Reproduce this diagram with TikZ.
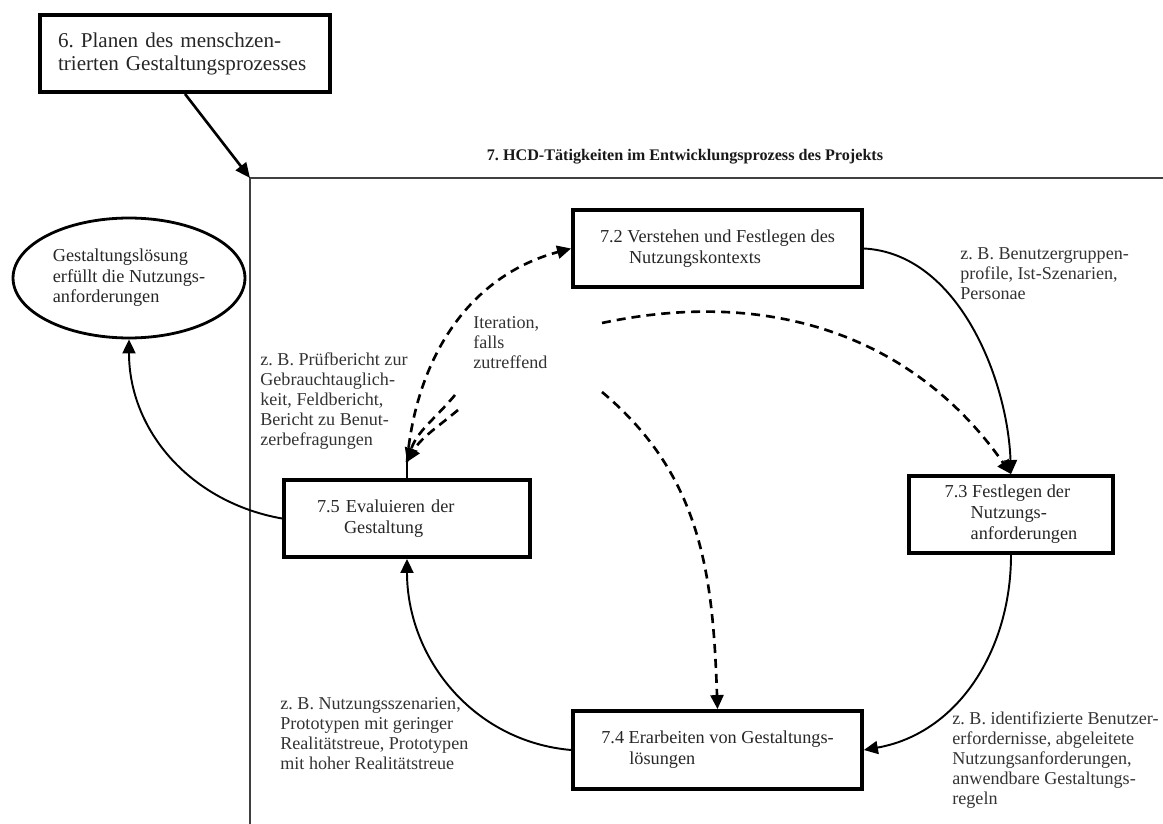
\documentclass[tikz,border=0pt]{standalone}
\usepackage{fontspec}
\setmainfont{Liberation Serif}
\usetikzlibrary{shapes.geometric,arrows.meta}
\frenchspacing

\begin{document}
\begin{tikzpicture}[x=0.02cm, y=-0.02cm,
    kasten/.style={draw, line width=2.2pt, align=left, inner sep=0pt, minimum height=1.54cm,
        font=\fontsize{10.4}{12}\selectfont, text=black!85},
    notiz/.style={anchor=north west, align=left, inner sep=0pt,
        font=\fontsize{10.3}{11.4}\selectfont, text=black!80},
    fluss/.style={line width=1.1pt, -{Triangle[length=0.28cm, width=0.26cm]}},
    iteration/.style={fluss, line width=1.5pt, dash pattern=on 0.18cm off 0.12cm}]
    \useasboundingbox (0,0) rectangle (1163,824);

    % Rahmen
    \coordinate (ecke) at (250,178);
    \coordinate (rechts) at (1163,178);
    \coordinate (unten) at (250,824);
    \draw[black!75, line width=1.3pt] (rechts) -- (ecke) -- (unten);
    \node[anchor=base, font=\bfseries\fontsize{9.2}{11}\selectfont, text=black!90] (titel) at (685,161)
        {7. HCD-Tätigkeiten im Entwicklungsprozess des Projekts};

    % Kästen
    \node[kasten, minimum width=5.8cm, text width=5.08cm, font=\fontsize{12}{13.1}\selectfont] (p6) at (185,53.5)
        {6. Planen des menschzen-\\trierten Gestaltungsprozesses};
    \node[draw, ellipse, line width=1.6pt, minimum width=4.64cm, minimum height=2.4cm, inner sep=0pt,
        align=left, font=\fontsize{10.4}{11.6}\selectfont, text=black!85] (ziel) at (129,278)
        {Gestaltungslösung\\erfüllt die Nutzungs-\\anforderungen};
    \node[kasten, minimum width=5.78cm] (k72) at (717.5,248.5)
        {7.2 Verstehen und Festlegen des\\\hspace*{0.58cm}Nutzungskontexts};
    \node[kasten, minimum width=4.08cm] (k73) at (1011,514.5)
        {7.3 Festlegen der\\\hspace*{0.52cm}Nutzungs-\\\hspace*{0.52cm}anforderungen};
    \node[kasten, minimum width=5.78cm, minimum height=1.56cm] (k74) at (717.5,750)
        {7.4 Erarbeiten von Gestaltungs-\\\hspace*{0.56cm}lösungen};
    \node[kasten, minimum width=4.92cm, text width=3.6cm] (k75) at (407,518.5)
        {7.5 Evaluieren der\\\hspace*{0.54cm}Gestaltung};

    % Beispiele
    \node[notiz] (n72) at (960,247) {z. B. Benutzergruppen-\\profile, Ist-Szenarien,\\Personae};
    \node[notiz] (n73) at (952,711) {z. B. identifizierte Benutzer-\\erfordernisse, abgeleitete\\Nutzungsanforderungen,\\anwendbare Gestaltungs-\\regeln};
    \node[notiz] (n74) at (280,697) {z. B. Nutzungsszenarien,\\Prototypen mit geringer\\Realitätstreue, Prototypen\\mit hoher Realitätstreue};
    \node[notiz] (n75) at (260,352) {z. B. Prüfbericht zur\\Gebrauchtauglich-\\keit, Feldbericht,\\Bericht zu Benut-\\zerbefragungen};
    \node[notiz] (iter) at (473,316) {Iteration,\\falls\\zutreffend};

    % Pfeile
    \draw[line width=1.5pt, -{Triangle[length=0.3cm, width=0.26cm]}] (p6.south) -- (ecke);
    \draw[fluss] (k72.east) to[out=-3, in=92, looseness=0.9] (k73.north);
    \draw[fluss] (k73.south) to[out=-90, in=10] (k74.east);
    \draw[fluss] (k74.west) to[out=175, in=-90] (k75.south);
    \draw[fluss] (k75.west) to[out=170, in=-90] (ziel.south);

    % Iteration (gestrichelt)
    \coordinate (fb) at (407,462);
    \coordinate (f1) at (455,395);
    \coordinate (f2) at (458,410);
    \coordinate (i1) at (602,323);
    \coordinate (i2) at (602,392);
    \draw[line width=1.5pt] (k75.north) -- (fb);
    \draw[iteration] (fb) to[out=85, in=195] (k72.west);
    \draw[iteration] (i1) to[out=12, in=125] (k73.north);
    \draw[iteration] (i2) to[out=-40, in=92] (k74.north);
    \draw[iteration] (f1) to[out=-130, in=72] (fb);
    \draw[iteration] (f2) to[out=-140, in=60] (fb);
\end{tikzpicture}
\end{document}
